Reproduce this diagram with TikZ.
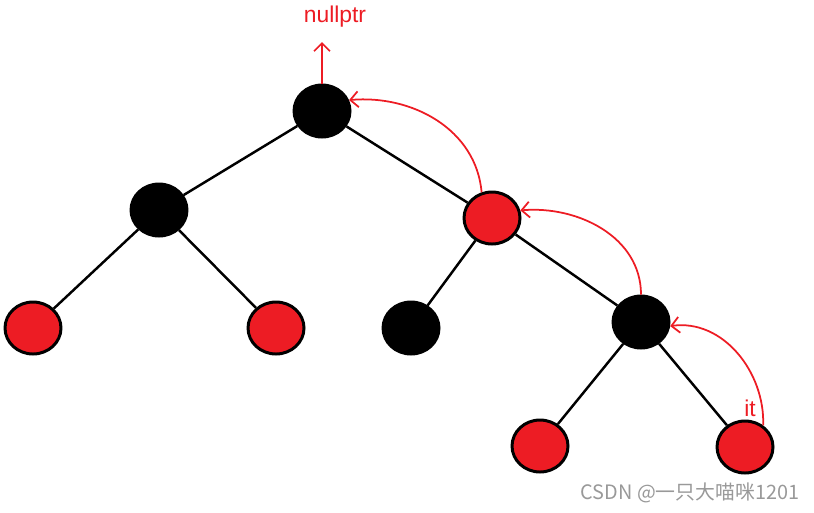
\documentclass[tikz,border=0pt]{standalone}
\usepackage{fontspec}
\setmainfont{Liberation Sans}
\newfontfamily\cjkfont{Noto Sans CJK SC}
\usepackage{xcolor}
\usetikzlibrary{shapes.geometric,arrows.meta}
\definecolor{pred}{HTML}{ED1C24}

\begin{document}
\begin{tikzpicture}[x=0.02cm,y=-0.02cm,
  rbnode/.style={ellipse,draw=black,line width=1.7pt,minimum width=1.12cm,minimum height=1.04cm,inner sep=0pt},
  blknode/.style={rbnode,fill=black},
  rednode/.style={rbnode,fill=pred},
  edge/.style={line width=1.4pt},
  back/.style={draw=pred,line width=1pt,-{Straight Barb[length=4.5pt,width=9pt]}},
  lbl/.style={text=pred,font=\fontsize{13}{15}\selectfont,inner sep=0pt}]
  \useasboundingbox (0,0) rectangle (814,512);
  \node[blknode] (root) at (322,111) {};
  \node[blknode] (l) at (159,210) {};
  \node[rednode] (r) at (492,218) {};
  \node[rednode] (ll) at (33,328) {};
  \node[rednode] (lr) at (276,328) {};
  \node[blknode] (rl) at (411,328) {};
  \node[blknode] (rr) at (641,322) {};
  \node[rednode] (rrl) at (540,446) {};
  \node[rednode] (rrr) at (745,447) {};
  \draw[edge] (root) -- (l);
  \draw[edge] (root) -- (r);
  \draw[edge] (l) -- (ll);
  \draw[edge] (l) -- (lr);
  \draw[edge] (r) -- (rl);
  \draw[edge] (r) -- (rr);
  \draw[edge] (rr) -- (rrl);
  \draw[edge] (rr) -- (rrr);
  \node[lbl] (np) at (335,17) {nullptr};
  \node[lbl] (it) at (750,408) {it};
  \coordinate (top) at (322,42);
  \draw[back] (root.north) -- (top);
  \draw[back] (r.112) to[out=95,in=5] (root.22);
  \draw[back] (rr.north) to[out=90,in=5] (r.15);
  \draw[back] (rrr.50) to[out=88,in=8] (rr.-8);
  \node[text=black!40,font=\cjkfont\fontsize{11.3}{13}\selectfont,inner sep=0pt] (mark) at (690,493) {CSDN @一只大喵咪1201};
\end{tikzpicture}
\end{document}
